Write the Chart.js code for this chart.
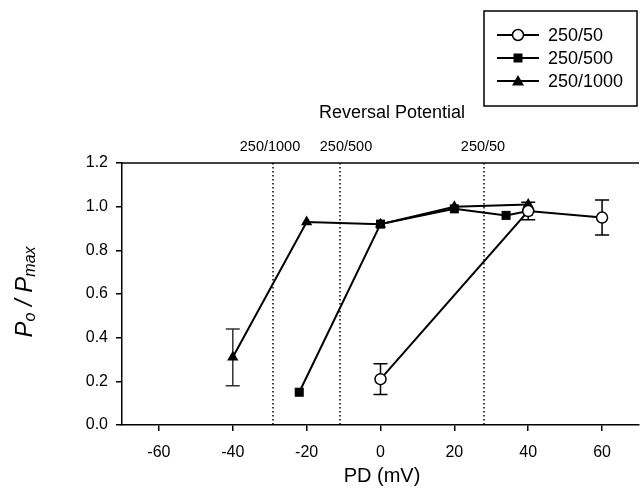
<!DOCTYPE html>
<html><head><meta charset="utf-8">
<style>html,body{margin:0;padding:0;overflow:hidden;background:#fff}
#wrap{position:absolute;left:0;top:0;width:646px;height:498px}</style>
<script src="https://cdn.jsdelivr.net/npm/chart.js@4/dist/chart.umd.min.js"></script>
</head><body><div id="wrap"><canvas id="c" width="646" height="498" style="width:646px;height:498px"></canvas></div>
<script>
const xTicks = [-60, -40, -20, 0, 20, 40, 60];
const yTicks = [0, 0.2, 0.4, 0.6, 0.8, 1.0, 1.2];
const pd50 = [0, 40, 60];
const po50 = [0.21, 0.98, 0.95];
const err50 = [0.07, 0.04, 0.08];
const pd500 = [-22, 0, 20, 34, 40];
const po500 = [0.15, 0.92, 0.99, 0.96, 0.98];
const pd1000 = [-40, -20, 0, 20, 40];
const po1000 = [0.31, 0.93, 0.92, 1.00, 1.01];
const err1000 = [0.13, 0, 0, 0, 0];
const reversalLabels = ['250/1000', '250/500', '250/50'];
const reversalPD = [-29, -11, 28];

const FONT = '"Liberation Sans", Arial, Helvetica, sans-serif';
const pts = (xs, ys) => xs.map((x, i) => ({x: x, y: ys[i]}));

const extras = {
  id: 'extras',
  beforeDatasetsDraw(chart) {
    const ctx = chart.ctx, xs = chart.scales.x, ys = chart.scales.y, a = chart.chartArea;
    ctx.save();
    ctx.strokeStyle = '#000'; ctx.lineWidth = 1.5; ctx.setLineDash([1.5, 2.5]);
    reversalPD.forEach(v => {
      const px = Math.round(xs.getPixelForValue(v));
      ctx.beginPath(); ctx.moveTo(px, a.top); ctx.lineTo(px, a.bottom); ctx.stroke();
    });
    ctx.setLineDash([]);
    const bars = [[pd50, po50, err50, '#000'], [pd1000, po1000, err1000, '#333']];
    bars.forEach(([xsv, ysv, ev, col]) => {
      ctx.strokeStyle = col; ctx.lineWidth = 1.5;
      xsv.forEach((x, i) => {
        if (!ev[i]) return;
        const px = xs.getPixelForValue(x);
        const t = ys.getPixelForValue(ysv[i] + ev[i]);
        const b = ys.getPixelForValue(ysv[i] - ev[i]);
        ctx.beginPath();
        ctx.moveTo(px, t); ctx.lineTo(px, b);
        ctx.moveTo(px - 7, t); ctx.lineTo(px + 7, t);
        ctx.moveTo(px - 7, b); ctx.lineTo(px + 7, b);
        ctx.stroke();
      });
    });
    ctx.restore();
  },
  afterDraw(chart) {
    const ctx = chart.ctx, a = chart.chartArea;
    ctx.save();
    ctx.strokeStyle = '#000'; ctx.lineWidth = 1.5;
    ctx.beginPath(); ctx.moveTo(a.left, a.top); ctx.lineTo(a.right, a.top); ctx.stroke();
    ctx.fillStyle = '#000';
    ctx.textAlign = 'center'; ctx.textBaseline = 'middle';
    ctx.font = '18px ' + FONT;
    ctx.fillText('Reversal Potential', 392, 113);
    ctx.font = '14.5px ' + FONT;
    const lx = [270, 346, 483];
    reversalLabels.forEach((t, i) => ctx.fillText(t, lx[i], 147));
    ctx.font = '20px ' + FONT;
    ctx.fillText('PD (mV)', 382, 476);
    ctx.save();
    ctx.translate(25, 292); ctx.rotate(-Math.PI / 2);
    const big = 'italic 24px ' + FONT, small = 'italic 16px ' + FONT;
    const parts = [['P', big, 0], ['o', small, 6], [' / ', big, 0], ['P', big, 0], ['max', small, 6]];
    let w = 0;
    parts.forEach(p => { ctx.font = p[1]; w += ctx.measureText(p[0]).width; });
    let x = -w / 2;
    ctx.textAlign = 'left';
    parts.forEach(p => { ctx.font = p[1]; ctx.fillText(p[0], x, p[2]); x += ctx.measureText(p[0]).width; });
    ctx.restore();
    ctx.lineWidth = 1.5; ctx.strokeStyle = '#000';
    ctx.strokeRect(484, 11, 153, 95);
    const names = ['250/50', '250/500', '250/1000'];
    const rows = [35, 58, 81];
    ctx.font = '18px ' + FONT; ctx.textAlign = 'left';
    names.forEach((n, i) => {
      const y = rows[i];
      ctx.lineWidth = 2;
      ctx.beginPath(); ctx.moveTo(497, y); ctx.lineTo(539, y); ctx.stroke();
      const mx = 518;
      if (i === 0) {
        ctx.beginPath(); ctx.arc(mx, y, 5.5, 0, Math.PI * 2);
        ctx.fillStyle = '#fff'; ctx.fill(); ctx.lineWidth = 1.5; ctx.stroke();
      } else if (i === 1) {
        ctx.fillStyle = '#000'; ctx.fillRect(mx - 4.5, y - 4.5, 9, 9);
      } else {
        ctx.fillStyle = '#000'; ctx.beginPath();
        ctx.moveTo(mx, y - 6); ctx.lineTo(mx + 6, y + 4.5); ctx.lineTo(mx - 6, y + 4.5); ctx.closePath(); ctx.fill();
      }
      ctx.fillStyle = '#000';
      ctx.fillText(n, 548, y + 1);
    });
    ctx.restore();
  }
};

new Chart(document.getElementById('c'), {
  type: 'scatter',
  data: {
    datasets: [
      {label: '250/50', data: pts(pd50, po50), showLine: true, borderColor: '#000', borderWidth: 2,
       pointStyle: 'circle', pointRadius: 5.5, pointBackgroundColor: '#fff', pointBorderColor: '#000', pointBorderWidth: 1.5},
      {label: '250/500', data: pts(pd500, po500), showLine: true, borderColor: '#000', borderWidth: 2,
       pointStyle: 'rect', pointRadius: 6.4, pointBackgroundColor: '#000', pointBorderColor: '#000', pointBorderWidth: 0},
      {label: '250/1000', data: pts(pd1000, po1000), showLine: true, borderColor: '#000', borderWidth: 2,
       pointStyle: 'triangle', pointRadius: 6.5, pointBackgroundColor: '#000', pointBorderColor: '#000', pointBorderWidth: 0}
    ]
  },
  options: {
    responsive: false, animation: false, devicePixelRatio: 1,
    layout: {padding: {top: 163, right: 3, left: 0, bottom: 0}},
    plugins: {legend: {display: false}, tooltip: {enabled: false}, title: {display: false}},
    scales: {
      x: {
        type: 'linear', min: -70, max: 70,
        afterBuildTicks: s => { s.ticks = xTicks.map(v => ({value: v})); },
        afterFit: s => { s.height = 73; },
        ticks: {font: {size: 16, family: FONT}, color: '#000', padding: 12, maxRotation: 0},
        grid: {drawOnChartArea: false, drawTicks: true, tickLength: 6, color: '#000', lineWidth: 1.5},
        border: {display: true, color: '#000', width: 1.5}
      },
      y: {
        type: 'linear', min: 0, max: 1.2,
        afterBuildTicks: s => { s.ticks = yTicks.map(v => ({value: v})); },
        afterFit: s => { s.width = 122; },
        ticks: {font: {size: 16, family: FONT}, color: '#000', padding: 8, callback: v => Number(v).toFixed(1)},
        grid: {drawOnChartArea: false, drawTicks: true, tickLength: 6, color: '#000', lineWidth: 1.5},
        border: {display: true, color: '#000', width: 1.5}
      }
    }
  },
  plugins: [extras]
});
</script>
</body></html>
